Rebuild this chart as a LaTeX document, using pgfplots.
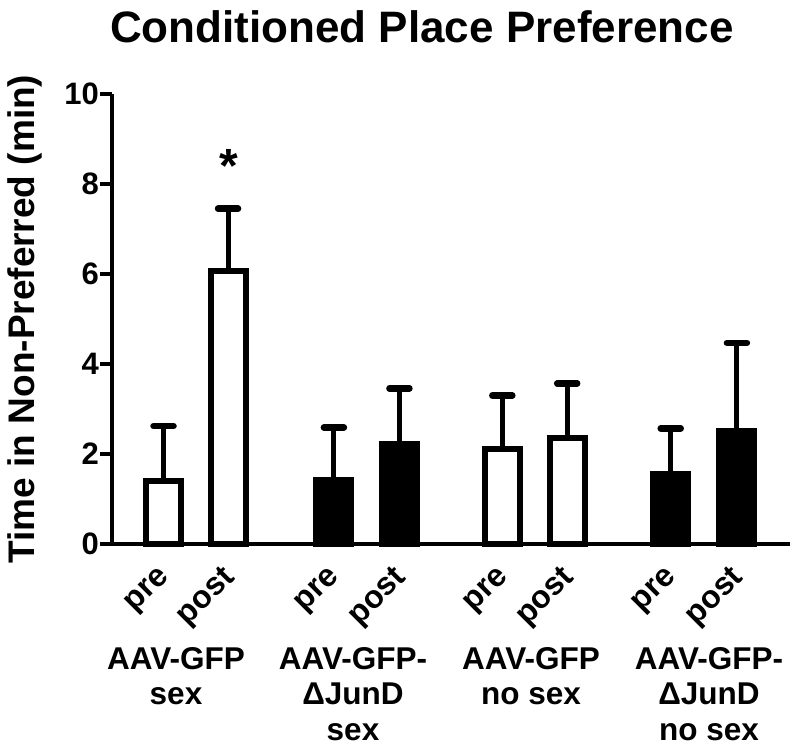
\documentclass[border=0pt]{standalone}
\usepackage{pgfplots}
\pgfplotsset{compat=1.18}
\usepackage{fontspec}
\setmainfont{Liberation Sans}
\pgfplotstableread{
x y e
0 1.39 1.23
0.985 6.06 1.39
5.17 2.10 1.20
6.16 2.36 1.21
}\openbars
\pgfplotstableread{
x y e
2.6 1.42 1.17
3.6 2.23 1.23
7.74 1.56 1.01
8.75 2.50 1.97
}\filledbars
\newcommand{\lab}{\fontsize{31.5bp}{36bp}\selectfont\bfseries}
\begin{document}
\begin{tikzpicture}
\useasboundingbox (0,0) rectangle (800bp,753bp);
\begin{axis}[
  at={(112bp,209bp)}, anchor=south west,
  width=678bp, height=450bp, scale only axis,
  xmin=-0.786, xmax=9.56, ymin=0, ymax=10,
  axis x line*=bottom, axis y line*=left,
  axis line style={line width=3.5bp, -, black},
  tick align=outside,
  major tick length=12bp,
  ytick={0,2,4,6,8,10},
  ytick style={line width=3.5bp, black},
  yticklabel style={font=\fontsize{31bp}{34bp}\selectfont\bfseries, /pgf/number format/assume math mode=true, inner sep=1bp},
  xtick={0,0.985,2.6,3.6,5.17,6.16,7.74,8.75},
  xticklabels={pre,post,pre,post,pre,post,pre,post},
  xtick style={draw=none},
  xticklabel style={font=\fontsize{32bp}{36bp}\selectfont\bfseries, rotate=45, anchor=east, inner sep=0pt, xshift=-10.6bp, yshift=-14.4bp},
  ylabel={Time in Non-Preferred (min)},
  ylabel style={font=\fontsize{37bp}{40bp}\selectfont\bfseries, at={(axis description cs:-0.115,0.5)}, anchor=base, rotate=0},
  title={Conditioned Place Preference},
  title style={font=\fontsize{44bp}{50bp}\selectfont\bfseries, at={(axis description cs:0.457,1.102)}, anchor=base},
  clip=false,
]
\addplot[ybar, bar width=35bp, bar shift=0pt, fill=white, draw=black, line width=6bp,
  error bars/.cd, y dir=plus, y explicit,
  error bar style={line width=5bp, black},
  error mark options={rotate=90, mark size=10bp, line width=6.5bp, line cap=round, black}]
  table[x=x, y=y, y error=e] {\openbars};
\addplot[ybar, bar width=35bp, bar shift=0pt, fill=black, draw=black, line width=6bp,
  error bars/.cd, y dir=plus, y explicit,
  error bar style={line width=5bp, black},
  error mark options={rotate=90, mark size=10bp, line width=6.5bp, line cap=round, black}]
  table[x=x, y=y, y error=e] {\filledbars};
\node[anchor=base, inner sep=0pt, font=\fontsize{48bp}{48bp}\selectfont\bfseries] at (axis cs:1.0,8.03) {*};
\end{axis}
\node[anchor=base, font=\lab] at (176bp,83bp) {AAV-GFP};
\node[anchor=base, font=\lab] at (176bp,48bp) {sex};
\node[anchor=base, font=\lab] at (353bp,83bp) {AAV-GFP-};
\node[anchor=base, font=\lab] at (353bp,48bp) {ΔJunD};
\node[anchor=base, font=\lab] at (353bp,13bp) {sex};
\node[anchor=base, font=\lab] at (531bp,83bp) {AAV-GFP};
\node[anchor=base, font=\lab] at (531bp,48bp) {no sex};
\node[anchor=base, font=\lab] at (709bp,83bp) {AAV-GFP-};
\node[anchor=base, font=\lab] at (709bp,48bp) {ΔJunD};
\node[anchor=base, font=\lab] at (709bp,13bp) {no sex};
\end{tikzpicture}
\end{document}
